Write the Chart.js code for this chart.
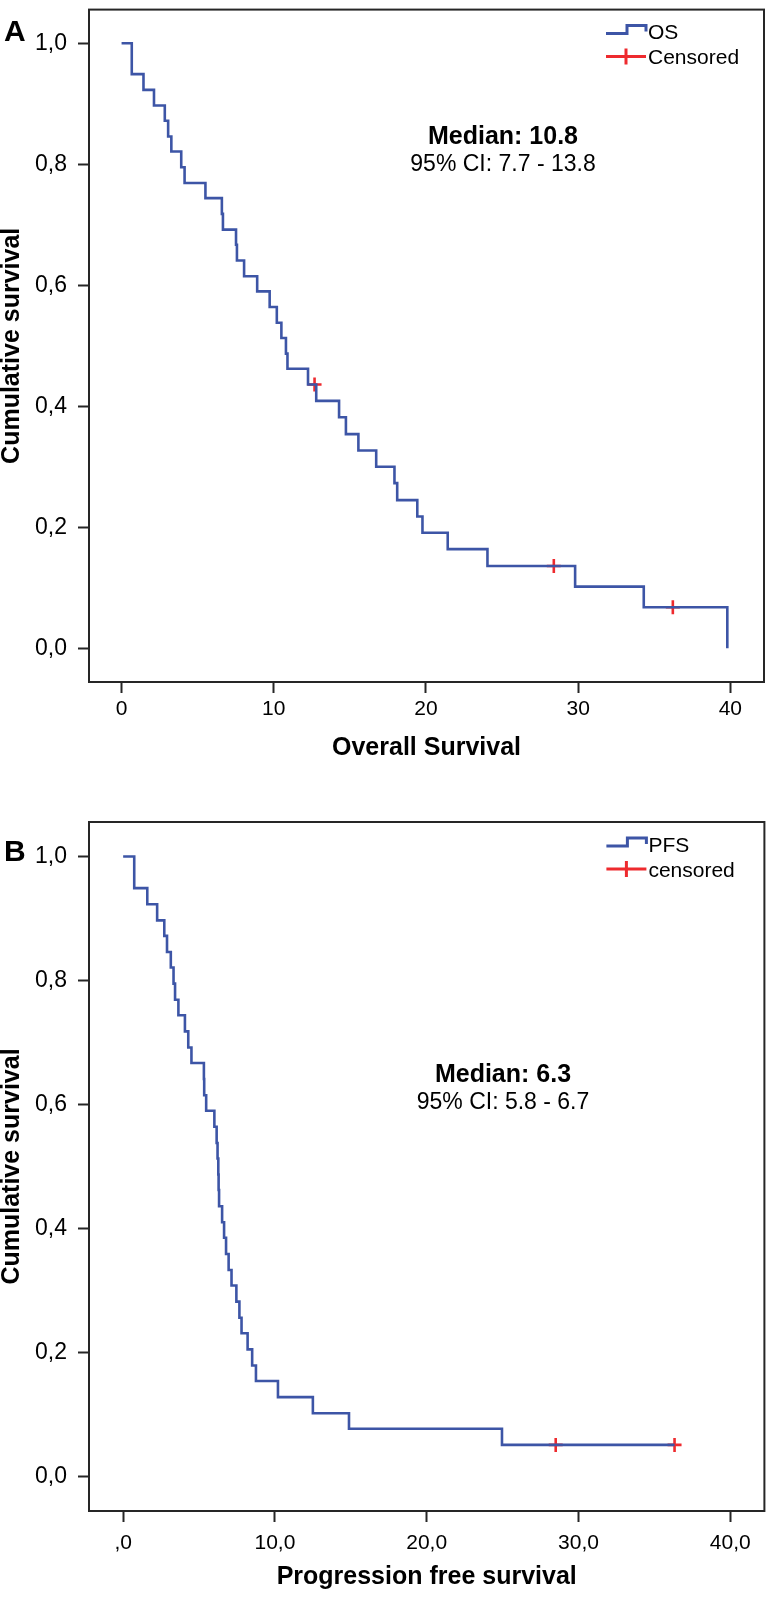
<!DOCTYPE html>
<html>
<head>
<meta charset="utf-8">
<script src="https://cdn.jsdelivr.net/npm/chart.js@4.4.1/dist/chart.umd.min.js"></script>
<style>
  body { margin: 0; background: #fff; }
  .panel { position: absolute; left: 0; }
  #wrapA { top: 0; }
  #wrapB { top: 790px; }
</style>
</head>
<body>
<div class="panel" id="wrapA"><canvas id="chartA" width="774" height="790"></canvas></div>
<div class="panel" id="wrapB"><canvas id="chartB" width="774" height="807"></canvas></div>
<script>
// overall survival (months) - Kaplan-Meier steps
var osTime = [0, 0.67, 1.44, 2.13, 2.84, 3.06, 3.27, 3.92, 4.14, 5.51, 6.59, 6.66, 7.52, 7.58, 8.05, 8.91, 9.73, 10.2, 10.5, 10.8,
  10.9, 12.25, 12.79, 14.29, 14.74, 15.56, 16.73, 17.93, 18.11, 19.43, 19.77, 21.43, 24.04, 29.80, 34.31, 39.80];
var osSurv = [1, 0.949, 0.923, 0.897, 0.872, 0.846, 0.821, 0.795, 0.769, 0.744, 0.718, 0.692, 0.667, 0.641, 0.615, 0.590, 0.564, 0.538, 0.513, 0.487,
  0.462, 0.436, 0.409, 0.382, 0.354, 0.327, 0.300, 0.273, 0.245, 0.218, 0.191, 0.164, 0.136, 0.102, 0.068, 0];
var osCensTime = [12.68, 28.40, 36.22];
var osCensSurv = [0.436, 0.136, 0.068];

// progression free survival
var pfsTime = [0, 0.73, 1.59, 2.24, 2.71, 2.89, 3.14, 3.32, 3.42, 3.64, 4.07, 4.29, 4.50, 5.32, 5.34, 5.47, 6.01, 6.16, 6.22, 6.27,
  6.29, 6.32, 6.52, 6.65, 6.78, 6.95, 7.14, 7.46, 7.66, 7.80, 8.20, 8.50, 8.75, 10.2, 12.5, 14.88, 24.96, 36.33];
var pfsSurv = [1, 0.949, 0.923, 0.897, 0.872, 0.846, 0.821, 0.795, 0.769, 0.744, 0.718, 0.692, 0.667, 0.641, 0.615, 0.590, 0.564, 0.538, 0.513, 0.487,
  0.462, 0.436, 0.410, 0.385, 0.359, 0.333, 0.308, 0.282, 0.256, 0.231, 0.205, 0.179, 0.154, 0.128, 0.102, 0.077, 0.051, 0.051];
var pfsCensTime = [28.5, 36.33];
var pfsCensSurv = [0.051, 0.051];

// axes
var xTicks = [0, 10, 20, 30, 40];
var xLabelsA = ["0", "10", "20", "30", "40"];
var xLabelsB = [",0", "10,0", "20,0", "30,0", "40,0"];
var yTicks = [0, 0.2, 0.4, 0.6, 0.8, 1.0];
var yLabels = ["0,0", "0,2", "0,4", "0,6", "0,8", "1,0"];

var BLUE = "#3d55a6";
var RED = "#ee2a2e";
var INK = "#262626";
var FONT = "'Liberation Sans', Arial, sans-serif";

Chart.defaults.font.family = FONT;
Chart.defaults.color = "#000";

function points(xs, ys) {
  var out = [];
  for (var i = 0; i < xs.length; i++) {
    out.push({ x: xs[i], y: ys[i] });
  }
  return out;
}

// frame + letter + legend + median text
var decor = {
  id: "decor",
  afterDraw: function(chart, args, o) {
    var ctx = chart.ctx;
    var a = chart.chartArea;
    ctx.save();
    ctx.strokeStyle = INK;
    ctx.lineWidth = 2;
    ctx.strokeRect(a.left, a.top, a.right - a.left, a.bottom - a.top);

    ctx.fillStyle = "#000";
    ctx.textBaseline = "middle";
    ctx.textAlign = "left";
    ctx.font = "bold 30px " + FONT;
    ctx.fillText(o.letter, 4, o.letterY);

    ctx.textAlign = "center";
    ctx.font = "bold 25px " + FONT;
    ctx.fillText(o.median, o.textX, o.textY);
    ctx.font = "23px " + FONT;
    ctx.fillText(o.ci, o.textX, o.textY + 28);

    // legend, top right inside the frame
    var lx = a.right - 158, ly = a.top + 22;
    ctx.lineWidth = 3;
    ctx.strokeStyle = BLUE;
    ctx.beginPath();
    ctx.moveTo(lx, ly + 2);
    ctx.lineTo(lx + 21, ly + 2);
    ctx.lineTo(lx + 21, ly - 6);
    ctx.lineTo(lx + 40, ly - 6);
    ctx.lineTo(lx + 40, ly);
    ctx.stroke();
    ctx.strokeStyle = RED;
    ctx.beginPath();
    ctx.moveTo(lx, ly + 25);
    ctx.lineTo(lx + 40, ly + 25);
    ctx.moveTo(lx + 20, ly + 17);
    ctx.lineTo(lx + 20, ly + 33);
    ctx.stroke();
    ctx.textAlign = "left";
    ctx.font = "21px " + FONT;
    ctx.fillText(o.name, lx + 42, ly + 2);
    ctx.fillText(o.cens, lx + 42, ly + 27);
    ctx.restore();
  }
};

function makePanel(id, cfg) {
  var ctx = document.getElementById(id).getContext("2d");
  return new Chart(ctx, {
    type: "line",
    data: {
      datasets: [{
        data: points(cfg.time, cfg.surv),
        stepped: true,
        borderColor: BLUE,
        borderWidth: 2.6,
        pointRadius: 0,
        fill: false
      }, {
        data: points(cfg.censTime, cfg.censSurv),
        showLine: false,
        pointStyle: "cross",
        pointRadius: 7,
        borderColor: RED,
        borderWidth: 2.6
      }]
    },
    options: {
      responsive: false,
      animation: false,
      events: [],
      layout: { padding: { left: 0, right: cfg.padRight, top: cfg.padTop, bottom: 0 } },
      plugins: {
        legend: { display: false },
        tooltip: { enabled: false },
        decor: cfg.decor
      },
      scales: {
        x: {
          type: "linear",
          min: cfg.xMin,
          max: cfg.xMax,
          afterBuildTicks: function(s) {
            s.ticks = xTicks.map(function(v) { return { value: v }; });
          },
          afterFit: function(s) {
            s.height = cfg.xHeight;
            s.paddingLeft = 0;
            s.paddingRight = 0;
          },
          ticks: {
            font: { size: 21 },
            color: "#000",
            padding: cfg.xTickPad,
            maxRotation: 0,
            callback: function(v, i) { return cfg.xLabels[i]; }
          },
          grid: { drawOnChartArea: false, drawTicks: true, tickLength: 11, tickColor: INK, tickWidth: 2 },
          border: { display: false },
          title: {
            display: true,
            text: cfg.xTitle,
            font: { size: 25, weight: "bold", lineHeight: 1 },
            color: "#000",
            padding: { top: 0, bottom: cfg.xTitlePad }
          }
        },
        y: {
          min: -0.0556,
          max: 1.0556,
          afterBuildTicks: function(s) {
            s.ticks = yTicks.map(function(v) { return { value: v }; });
          },
          afterFit: function(s) {
            s.width = 89;
            s.paddingTop = 0;
            s.paddingBottom = 0;
          },
          ticks: {
            font: { size: 23 },
            color: "#000",
            padding: 11,
            callback: function(v, i) { return yLabels[i]; }
          },
          grid: { drawOnChartArea: false, drawTicks: true, tickLength: 11, tickColor: INK, tickWidth: 2 },
          border: { display: false },
          title: {
            display: true,
            text: "Cumulative survival",
            font: { size: 25, weight: "bold", lineHeight: 1 },
            color: "#000",
            padding: { top: 0, bottom: 0 }
          }
        }
      }
    },
    plugins: [decor]
  });
}

makePanel("chartA", {
  time: osTime, surv: osSurv, censTime: osCensTime, censSurv: osCensSurv,
  xLabels: xLabelsA, xTitle: "Overall Survival",
  padTop: 3, padRight: 10, xMin: -2.14, xMax: 42.21,
  xHeight: 108, xTickPad: 4, xTitlePad: 29,
  decor: { letter: "A", letterY: 33, median: "Median: 10.8", ci: "95% CI: 7.7 - 13.8", textX: 503, textY: 137, name: "OS", cens: "Censored" }
});

makePanel("chartB", {
  time: pfsTime, surv: pfsSurv, censTime: pfsCensTime, censSurv: pfsCensSurv,
  xLabels: xLabelsB, xTitle: "Progression free survival",
  padTop: 32, padRight: 2, xMin: -2.25, xMax: 42.25,
  xHeight: 86, xTickPad: 9, xTitlePad: 7,
  decor: { letter: "B", letterY: 63, median: "Median: 6.3", ci: "95% CI: 5.8 - 6.7", textX: 503, textY: 285, name: "PFS", cens: "censored" }
});
</script>
</body>
</html>
